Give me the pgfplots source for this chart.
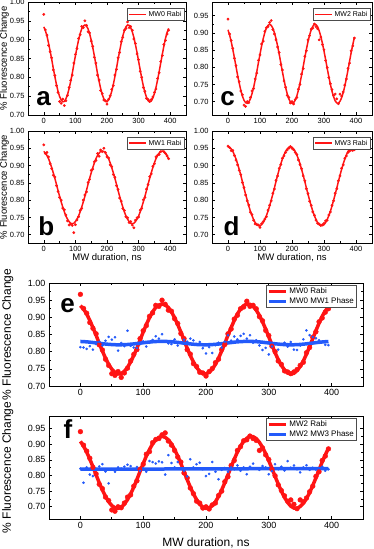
\documentclass[border=0pt]{standalone}
\usepackage{fontspec}
\setmainfont{Liberation Sans}
\usepackage{pgfplots}
\usepackage{pgfplotstable}
\pgfplotsset{compat=1.18}

\definecolor{rabired}{RGB}{255,20,20}
\definecolor{phaseblue}{RGB}{35,90,250}

% columns: duration (ns), measured, fit
\pgfplotstableread{
x y f
0 0.967 0.934
5 0.926 0.924
10 0.912 0.910
15 0.885 0.891
20 0.868 0.870
25 0.852 0.848
30 0.820 0.824
35 0.805 0.802
40 0.778 0.781
45 0.760 0.763
50 0.736 0.749
55 0.731 0.740
60 0.742 0.735
65 0.725 0.736
70 0.738 0.743
75 0.752 0.754
80 0.773 0.770
85 0.792 0.789
90 0.806 0.810
95 0.838 0.834
100 0.861 0.857
105 0.876 0.879
110 0.903 0.899
115 0.913 0.916
120 0.935 0.929
125 0.932 0.936
130 0.950 0.939
135 0.938 0.936
140 0.921 0.929
145 0.918 0.916
150 0.896 0.899
155 0.882 0.879
160 0.853 0.857
165 0.838 0.834
170 0.806 0.810
175 0.793 0.789
180 0.765 0.770
185 0.757 0.754
190 0.740 0.743
195 0.738 0.736
200 0.729 0.735
205 0.742 0.740
210 0.751 0.749
215 0.768 0.763
220 0.778 0.781
225 0.806 0.802
230 0.821 0.824
235 0.852 0.848
240 0.866 0.870
245 0.895 0.891
250 0.906 0.910
255 0.925 0.924
260 0.930 0.934
265 0.947 0.939
270 0.932 0.938
275 0.935 0.932
280 0.925 0.921
285 0.902 0.906
290 0.890 0.887
295 0.862 0.866
300 0.847 0.843
305 0.816 0.820
310 0.800 0.797
315 0.773 0.777
320 0.763 0.760
325 0.744 0.747
330 0.741 0.738
335 0.736 0.735
340 0.741 0.737
345 0.748 0.745
350 0.760 0.757
355 0.769 0.773
360 0.797 0.793
365 0.812 0.815
370 0.842 0.838
375 0.858 0.861
380 0.887 0.883
385 0.898 0.903
390 0.915 0.919
395 0.925 0.930
}\mwzero

\pgfplotstableread{
x y f
0 0.960 0.941
5 0.935 0.936
10 0.938 0.929
15 0.925 0.920
20 0.905 0.908
25 0.891 0.894
30 0.872 0.879
35 0.867 0.863
40 0.842 0.846
45 0.825 0.828
50 0.808 0.811
55 0.800 0.795
60 0.777 0.780
65 0.772 0.766
70 0.757 0.754
75 0.740 0.745
80 0.728 0.738
85 0.731 0.733
90 0.727 0.732
95 0.706 0.733
100 0.729 0.738
105 0.743 0.745
110 0.752 0.754
115 0.770 0.766
120 0.776 0.780
125 0.800 0.795
130 0.815 0.811
135 0.824 0.828
140 0.851 0.846
145 0.860 0.863
150 0.886 0.879
155 0.890 0.894
160 0.911 0.908
165 0.915 0.920
170 0.935 0.929
175 0.927 0.936
180 0.945 0.941
185 0.940 0.942
190 0.950 0.941
195 0.938 0.936
200 0.925 0.929
205 0.922 0.920
210 0.902 0.908
215 0.897 0.894
220 0.874 0.879
225 0.866 0.863
230 0.842 0.846
235 0.831 0.828
240 0.806 0.811
245 0.797 0.795
250 0.776 0.780
255 0.770 0.766
260 0.752 0.754
265 0.749 0.745
270 0.735 0.738
275 0.738 0.733
280 0.728 0.732
285 0.720 0.733
290 0.742 0.738
295 0.749 0.745
300 0.751 0.754
305 0.771 0.766
310 0.776 0.780
315 0.801 0.795
320 0.808 0.811
325 0.832 0.828
330 0.845 0.846
335 0.868 0.863
340 0.876 0.879
345 0.898 0.894
350 0.905 0.908
355 0.925 0.920
360 0.930 0.929
365 0.932 0.936
370 0.940 0.941
375 0.948 0.942
380 0.940 0.941
385 0.935 0.936
390 0.928 0.929
395 0.920 0.920
}\mwone

\pgfplotstableread{
x y f
0 0.940 0.909
5 0.897 0.894
10 0.878 0.875
15 0.855 0.852
20 0.826 0.828
25 0.805 0.802
30 0.772 0.777
35 0.758 0.754
40 0.731 0.733
45 0.720 0.716
50 0.690 0.704
55 0.686 0.697
60 0.700 0.695
65 0.697 0.699
70 0.712 0.708
75 0.731 0.723
80 0.738 0.741
85 0.766 0.763
90 0.783 0.787
95 0.820 0.813
100 0.836 0.838
105 0.868 0.862
110 0.876 0.883
115 0.905 0.901
120 0.915 0.914
125 0.918 0.922
130 0.930 0.925
135 0.936 0.922
140 0.910 0.914
145 0.897 0.901
150 0.880 0.883
155 0.859 0.862
160 0.843 0.838
165 0.808 0.813
170 0.792 0.787
175 0.760 0.763
180 0.742 0.741
185 0.718 0.723
190 0.712 0.708
195 0.696 0.699
200 0.700 0.695
205 0.693 0.697
210 0.706 0.704
215 0.712 0.716
220 0.736 0.733
225 0.750 0.754
230 0.780 0.777
235 0.796 0.802
240 0.832 0.828
245 0.848 0.852
250 0.880 0.875
255 0.892 0.894
260 0.911 0.909
265 0.914 0.919
270 0.926 0.925
275 0.918 0.924
280 0.912 0.918
285 0.880 0.906
290 0.888 0.890
295 0.866 0.870
300 0.851 0.847
305 0.820 0.823
310 0.799 0.797
315 0.770 0.773
320 0.752 0.750
325 0.735 0.730
330 0.718 0.714
335 0.722 0.702
340 0.708 0.696
345 0.694 0.695
350 0.722 0.701
355 0.716 0.711
360 0.728 0.726
365 0.748 0.745
370 0.766 0.768
375 0.797 0.792
380 0.812 0.818
385 0.848 0.843
390 0.862 0.866
395 0.885 0.887
}\mwtwo

\pgfplotstableread{
x y f
0 0.956 0.954
5 0.952 0.953
10 0.943 0.948
15 0.944 0.941
20 0.929 0.931
25 0.916 0.919
30 0.902 0.905
35 0.886 0.889
40 0.874 0.872
45 0.851 0.854
50 0.836 0.835
55 0.815 0.817
60 0.798 0.800
65 0.786 0.783
70 0.765 0.768
75 0.758 0.755
80 0.742 0.744
85 0.731 0.735
90 0.730 0.729
95 0.728 0.726
100 0.721 0.726
105 0.732 0.729
110 0.738 0.735
115 0.745 0.744
120 0.752 0.755
125 0.771 0.768
130 0.785 0.783
135 0.798 0.800
140 0.820 0.817
145 0.832 0.835
150 0.857 0.854
155 0.870 0.872
160 0.892 0.889
165 0.903 0.905
170 0.921 0.919
175 0.928 0.931
180 0.938 0.941
185 0.945 0.948
190 0.950 0.953
195 0.955 0.954
200 0.950 0.953
205 0.946 0.948
210 0.938 0.941
215 0.932 0.931
220 0.916 0.919
225 0.903 0.905
230 0.891 0.889
235 0.870 0.872
240 0.856 0.854
245 0.833 0.835
250 0.819 0.817
255 0.797 0.800
260 0.785 0.783
265 0.766 0.768
270 0.756 0.755
275 0.742 0.744
280 0.733 0.735
285 0.731 0.729
290 0.727 0.726
295 0.729 0.726
300 0.733 0.729
305 0.740 0.735
310 0.742 0.744
315 0.757 0.755
320 0.766 0.768
325 0.785 0.783
330 0.798 0.800
335 0.820 0.817
340 0.833 0.835
345 0.856 0.854
350 0.870 0.872
355 0.892 0.889
360 0.902 0.905
365 0.921 0.919
370 0.928 0.931
375 0.938 0.941
380 0.942 0.948
385 0.945 0.953
390 0.944 0.954
395 0.946 0.953
}\mwthree

\pgfplotstableread{
x y f
0 0.813 0.8297
5 0.812 0.8293
10 0.808 0.8286
15 0.816 0.8277
20 0.806 0.8266
25 0.822 0.8255
30 0.829 0.8244
35 0.818 0.8233
40 0.832 0.8222
45 0.843 0.8214
50 0.835 0.8207
55 0.842 0.8202
60 0.803 0.8200
65 0.825 0.8201
70 0.816 0.8204
75 0.861 0.8209
80 0.817 0.8217
85 0.812 0.8226
90 0.811 0.8237
95 0.822 0.8248
100 0.830 0.8260
105 0.815 0.8271
110 0.826 0.8280
115 0.834 0.8289
120 0.845 0.8295
125 0.838 0.8299
130 0.851 0.8300
135 0.830 0.8299
140 0.824 0.8295
145 0.822 0.8289
150 0.836 0.8280
155 0.818 0.8271
160 0.826 0.8260
165 0.835 0.8248
170 0.829 0.8237
175 0.838 0.8226
180 0.833 0.8217
185 0.822 0.8209
190 0.828 0.8204
195 0.810 0.8201
200 0.795 0.8200
205 0.813 0.8202
210 0.796 0.8207
215 0.819 0.8214
220 0.826 0.8222
225 0.812 0.8233
230 0.829 0.8244
235 0.848 0.8255
240 0.832 0.8266
245 0.844 0.8277
250 0.836 0.8286
255 0.846 0.8293
260 0.852 0.8297
265 0.838 0.8300
270 0.848 0.8300
275 0.826 0.8297
280 0.833 0.8291
285 0.818 0.8284
290 0.805 0.8275
295 0.811 0.8264
300 0.792 0.8253
305 0.815 0.8241
310 0.822 0.8230
315 0.806 0.8221
320 0.822 0.8212
325 0.826 0.8206
330 0.815 0.8202
335 0.828 0.8200
340 0.806 0.8201
345 0.805 0.8205
350 0.818 0.8211
355 0.836 0.8219
360 0.862 0.8228
365 0.848 0.8239
370 0.843 0.8251
375 0.839 0.8262
380 0.833 0.8273
385 0.829 0.8282
390 0.820 0.8290
395 0.819 0.8296
}\phasezeroone

\pgfplotstableread{
x y f
0 0.822 0.8200
5 0.777 0.8200
10 0.826 0.8200
15 0.803 0.8200
20 0.798 0.8200
25 0.821 0.8200
30 0.829 0.8200
35 0.836 0.8200
40 0.813 0.8200
45 0.775 0.8200
50 0.820 0.8200
55 0.812 0.8200
60 0.826 0.8200
65 0.822 0.8200
70 0.828 0.8200
75 0.834 0.8200
80 0.830 0.8200
85 0.819 0.8200
90 0.827 0.8200
95 0.815 0.8200
100 0.822 0.8200
105 0.812 0.8200
110 0.846 0.8200
115 0.843 0.8200
120 0.838 0.8200
125 0.845 0.8200
130 0.842 0.8200
135 0.803 0.8210
140 0.865 0.8210
145 0.840 0.8210
150 0.826 0.8210
155 0.843 0.8210
160 0.822 0.8210
165 0.815 0.8210
170 0.797 0.8210
175 0.852 0.8210
180 0.826 0.8210
185 0.836 0.8210
190 0.841 0.8210
195 0.820 0.8210
200 0.798 0.8210
205 0.805 0.8210
210 0.843 0.8210
215 0.812 0.8210
220 0.788 0.8210
225 0.818 0.8210
230 0.824 0.8210
235 0.812 0.8210
240 0.826 0.8210
245 0.820 0.8210
250 0.832 0.8210
255 0.815 0.8210
260 0.826 0.8210
265 0.804 0.8210
270 0.828 0.8220
275 0.838 0.8220
280 0.822 0.8220
285 0.818 0.8220
290 0.830 0.8220
295 0.826 0.8220
300 0.804 0.8220
305 0.814 0.8220
310 0.836 0.8220
315 0.820 0.8220
320 0.828 0.8220
325 0.816 0.8220
330 0.846 0.8220
335 0.825 0.8220
340 0.832 0.8220
345 0.820 0.8220
350 0.810 0.8220
355 0.826 0.8220
360 0.833 0.8220
365 0.818 0.8220
370 0.825 0.8220
375 0.819 0.8220
380 0.823 0.8220
385 0.828 0.8220
390 0.815 0.8220
395 0.820 0.8220
}\phasetwothree

\tikzset{letter/.style={anchor=base west, font=\fontsize{26}{26}\selectfont\bfseries}}

\pgfplotsset{
  panel/.style={
    scale only axis,
    xmin=-50, xmax=450, xtick={0,100,200,300,400},
    minor x tick num=1, minor y tick num=1,
    tick align=inside, tick pos=both,
    axis line style={line width=0.8pt},
    every tick/.style={black, line width=0.6pt},
    major tick length=3pt, minor tick length=1.6pt,
    /pgf/number format/assume math mode=true,
    y tick label style={/pgf/number format/fixed, /pgf/number format/fixed zerofill,
                        /pgf/number format/precision=2},
    legend cell align=left,
  },
  small/.style={
    panel,
    tick label style={font=\fontsize{7.5}{8}\selectfont},
    label style={font=\fontsize{9.5}{10}\selectfont},
    ylabel style={at={(axis description cs:-0.149,0.5)}, anchor=center},
    xlabel style={at={(axis description cs:0.5,-0.134)}, anchor=center},
    legend style={at={(rel axis cs:0.988,0.945)}, anchor=north east,
                  font=\fontsize{7}{8}\selectfont, draw=black!70, line width=0.4pt,
                  inner sep=0.6pt, row sep=-1pt},
  },
  big/.style={
    panel,
    tick label style={font=\fontsize{9}{10}\selectfont},
    label style={font=\fontsize{12}{13}\selectfont},
    ylabel style={at={(axis description cs:-0.131,0.5)}, anchor=center},
    xlabel style={at={(axis description cs:0.5,-0.233)}, anchor=center},
    legend style={at={(rel axis cs:0.98,0.98)}, anchor=north east,
                  font=\fontsize{8}{9}\selectfont, draw=black!70, line width=0.4pt,
                  inner sep=0.6pt, row sep=-1.5pt},
  },
  dots/.style={only marks, mark=*, mark size=1.2pt, color=rabired,
               mark options={draw=rabired, fill=rabired}},
  bluedots/.style={only marks, mark=*, mark size=1.1pt, color=phaseblue,
                   mark options={draw=phaseblue, fill=phaseblue}},
  fitline/.style={rabired, line width=1.5pt, no marks},
}

\begin{document}
\begin{tikzpicture}
\path[use as bounding box] (0,0) rectangle (374pt,-549pt);

% (a) MW0 Rabi
\begin{axis}[small, at={(28pt,-2pt)}, anchor=north west, width=158pt, height=113pt,
  ymin=0.70, ymax=1.00, ytick={0.70,0.75,...,1.01},
  ylabel={\% Fluorescence Change}]
\addplot[dots, forget plot] table[x=x, y=y] {\mwzero};
\addplot[fitline] table[x=x, y=f] {\mwzero};
\addlegendentry{MW0 Rabi}
\node[letter] at (rel axis cs:0.03,0.08) {a};
\end{axis}

% (c) MW2 Rabi
\begin{axis}[small, at={(212pt,-2pt)}, anchor=north west, width=160pt, height=113pt,
  ymin=0.661, ymax=0.99, ytick={0.70,0.75,...,0.96}]
\addplot[dots, forget plot] table[x=x, y=y] {\mwtwo};
\addplot[fitline] table[x=x, y=f] {\mwtwo};
\addlegendentry{MW2 Rabi}
\node[letter] at (rel axis cs:0.03,0.088) {c};
\end{axis}

% (b) MW1 Rabi
\begin{axis}[small, at={(28pt,-131pt)}, anchor=north west, width=158pt, height=112pt,
  ymin=0.676, ymax=1.00, ytick={0.70,0.75,...,1.01},
  ylabel={\% Fluorescence Change}, xlabel={MW duration, ns}]
\addplot[dots, forget plot] table[x=x, y=y] {\mwone};
\addplot[fitline] table[x=x, y=f] {\mwone};
\addlegendentry{MW1 Rabi}
\node[letter] at (rel axis cs:0.044,0.07) {b};
\end{axis}

% (d) MW3 Rabi
\begin{axis}[small, at={(212pt,-131pt)}, anchor=north west, width=160pt, height=112pt,
  ymin=0.676, ymax=1.00, ytick={0.70,0.75,...,1.01},
  xlabel={MW duration, ns}]
\addplot[dots, forget plot] table[x=x, y=y] {\mwthree};
\addplot[fitline] table[x=x, y=f] {\mwthree};
\addlegendentry{MW3 Rabi}
\node[letter] at (rel axis cs:0.05,0.07) {d};
\end{axis}

% (e) MW0 Rabi with MW0/MW1 phase
\begin{axis}[big, at={(49pt,-283pt)}, anchor=north west, width=314pt, height=103pt,
  ymin=0.70, ymax=1.00, ytick={0.70,0.75,...,1.01},
  ylabel={\% Fluorescence Change}]
\addplot[dots, mark size=2.4pt, forget plot] table[x=x, y=y] {\mwzero};
\addplot[rabired, line width=3.5pt, no marks] table[x=x, y=f] {\mwzero};
\addlegendentry{MW0 Rabi}
\addplot[bluedots, forget plot] table[x=x, y=y] {\phasezeroone};
\addplot[phaseblue, line width=3.5pt, no marks] table[x=x, y=f] {\phasezeroone};
\addlegendentry{MW0 MW1 Phase}
\node[letter] at (rel axis cs:0.025,0.71) {e};
\end{axis}

% (f) MW2 Rabi with MW2/MW3 phase
\begin{axis}[big, at={(49pt,-416pt)}, anchor=north west, width=314pt, height=103pt,
  ymin=0.661, ymax=0.99, ytick={0.70,0.75,...,0.96},
  ylabel={\% Fluorescence Change}, xlabel={MW duration, ns}]
\addplot[dots, mark size=2.4pt, forget plot] table[x=x, y=y] {\mwtwo};
\addplot[rabired, line width=3.5pt, no marks] table[x=x, y=f] {\mwtwo};
\addlegendentry{MW2 Rabi}
\addplot[bluedots, forget plot] table[x=x, y=y] {\phasetwothree};
\addplot[phaseblue, line width=3.5pt, no marks] table[x=x, y=f] {\phasetwothree};
\addlegendentry{MW2 MW3 Phase}
\node[letter] at (rel axis cs:0.035,0.78) {f};
\end{axis}
\end{tikzpicture}
\end{document}
